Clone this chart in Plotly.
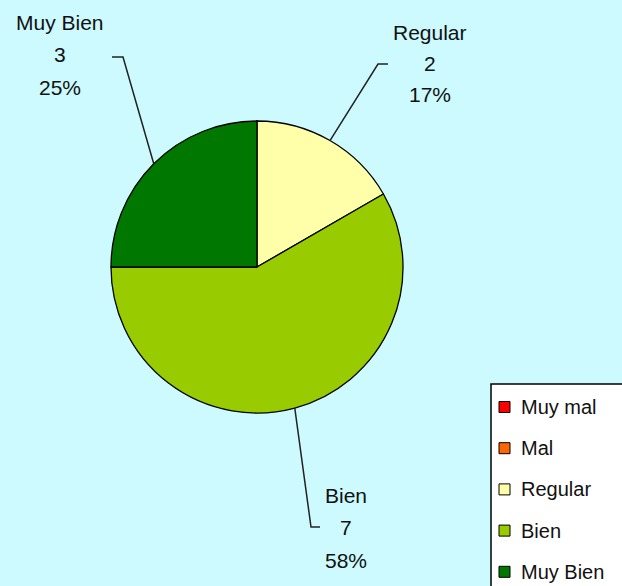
import math
import plotly.graph_objects as go

# ---- data ----
labels = ["Muy mal", "Mal", "Regular", "Bien", "Muy Bien"]
values = [0, 0, 2, 7, 3]
colors = ["#FF0000", "#FF6600", "#FFFFAA", "#99CC00", "#007800"]

# ---- layout constants (pixels) ----
W, H = 622, 586
CX, CY, R = 257, 267, 146
BG = "#CCFAFF"
FONT = "Liberation Sans, Arial, sans-serif"
FS = 21

# label placement: elbow point, tick end, text centre x, text line ys
label_layout = {
    "Regular": dict(elbow=(378, 64), tick=(388, 64), tx=430, ty=(32, 63, 95)),
    "Muy Bien": dict(elbow=(123, 57), tick=(112, 57), tx=60, ty=(22, 55, 87)),
    "Bien": dict(elbow=(311, 527), tick=(320, 527), tx=346, ty=(495, 527, 560)),
}


def px(x):
    return x / W


def py(y):
    return 1 - y / H


fig = go.Figure()
fig.add_trace(go.Pie(
    labels=labels, values=values, sort=False, direction="clockwise", rotation=0,
    marker=dict(colors=colors, line=dict(color="black", width=1.3)),
    textinfo="none", hoverinfo="label+value+percent", showlegend=False,
    domain=dict(x=[px(CX - R), px(CX + R)], y=[py(CY + R), py(CY - R)]),
))

annotations = []
shapes = []
total = sum(values)
cum = 0
for lab, v in zip(labels, values):
    if v == 0:
        continue
    mid = (cum + v / 2) / total * 2 * math.pi
    cum += v
    sx = CX + R * math.sin(mid)
    sy = CY - R * math.cos(mid)
    L = label_layout[lab]
    ex, ey = L["elbow"]
    tx2, ty2 = L["tick"]
    shapes.append(dict(type="path", xref="paper", yref="paper",
                       path=f"M {px(sx)},{py(sy)} L {px(ex)},{py(ey)} L {px(tx2)},{py(ty2)}",
                       line=dict(color="#222222", width=1.5)))
    pct = f"{round(v / total * 100)}%"
    for txt, yy in zip([lab, str(v), pct], L["ty"]):
        annotations.append(dict(x=px(L["tx"]), y=py(yy), xref="paper", yref="paper",
                                text=txt, showarrow=False, xanchor="center", yanchor="middle",
                                font=dict(family=FONT, size=FS, color="#111111")))

# manual legend
LX0, LY0 = 491, 384
shapes.append(dict(type="rect", xref="paper", yref="paper",
                   x0=px(LX0), y0=py(LY0), x1=px(W + 5), y1=py(H + 5),
                   fillcolor="white", line=dict(color="black", width=1.5), layer="above"))
item_y0, item_dy = 407, 41.2
for i, (lab, col) in enumerate(zip(labels, colors)):
    yc = item_y0 + i * item_dy
    shapes.append(dict(type="rect", xref="paper", yref="paper",
                       x0=px(499), x1=px(510), y0=py(yc + 5.5), y1=py(yc - 5.5),
                       fillcolor=col, line=dict(color="black", width=1), layer="above"))
    annotations.append(dict(x=px(519), y=py(yc), xref="paper", yref="paper",
                            text=lab, showarrow=False, xanchor="left", yanchor="middle",
                            font=dict(family=FONT, size=FS - 1, color="#111111")))

fig.update_layout(
    width=W, height=H, margin=dict(l=0, r=0, t=0, b=0),
    paper_bgcolor=BG, plot_bgcolor=BG,
    shapes=shapes, annotations=annotations, showlegend=False,
)

fig.write_html("out.html", config={"displayModeBar": False},
               post_script="document.body.style.margin='0';document.body.style.overflow='hidden';")
